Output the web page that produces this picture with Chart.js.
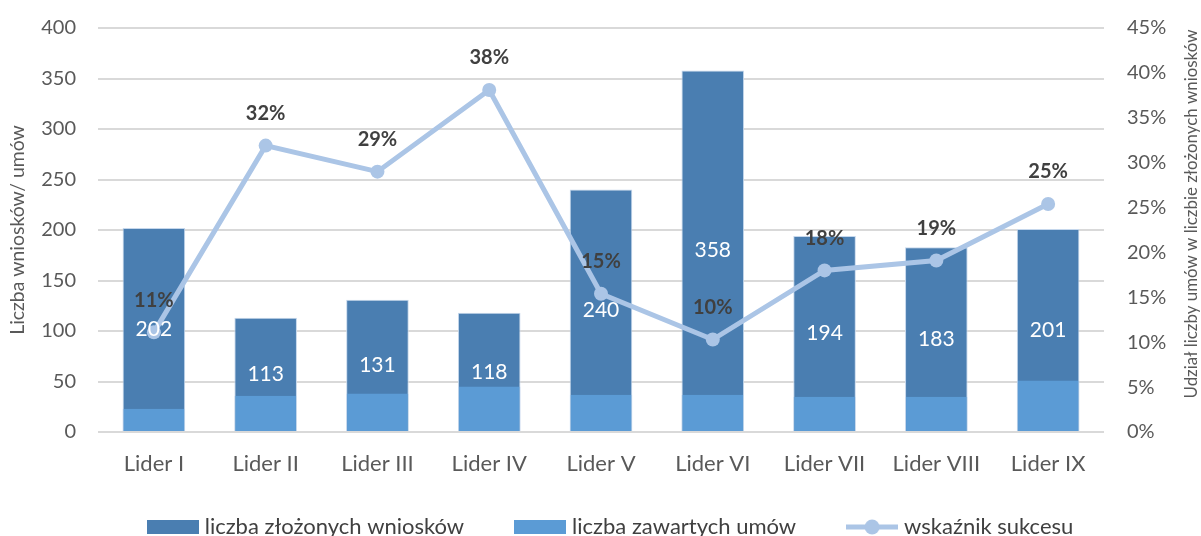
<!DOCTYPE html>
<html>
<head>
<meta charset="utf-8">
<script src="https://cdn.jsdelivr.net/npm/chart.js@4"></script>
<style>
  html, body { margin: 0; padding: 0; background: #fff; }
  #wrap { width: 1201px; height: 536px; }
</style>
</head>
<body>
<div id="wrap"><canvas id="myChart" width="1201" height="536"></canvas></div>
<script>
// dane
const categories = ['Lider I', 'Lider II', 'Lider III', 'Lider IV', 'Lider V', 'Lider VI', 'Lider VII', 'Lider VIII', 'Lider IX'];
const wnioski = [202, 113, 131, 118, 240, 358, 194, 183, 201];
const umowy = [23, 36, 38, 45, 37, 37, 35, 35, 51];
const sukces = [11.1, 31.9, 29.0, 38.1, 15.4, 10.3, 18.0, 19.1, 25.4];
const sukcesLabels = ['11%', '32%', '29%', '38%', '15%', '10%', '18%', '19%', '25%'];
const leftTicks = [0, 50, 100, 150, 200, 250, 300, 350, 400];
const rightTicks = [0, 5, 10, 15, 20, 25, 30, 35, 40, 45];
const leftTitle = 'Liczba wniosków/ umów';
const rightTitle = 'Udział liczby umów w liczbie złożonych wniosków';

const FONT = 'Lato';
const darkBlue = '#4a7eb1';
const midBlue = '#5b9bd5';
const lineBlue = '#abc5e6';
const barEdge = '#c5d7ec';

// rozmiar czcionki dobrany do dlugosci tytulu osi
function fitSize(text, target) {
  const g = document.createElement('canvas').getContext('2d');
  g.font = '20px ' + FONT;
  return Math.round(20 * target / g.measureText(text).width * 10) / 10;
}
const leftTitleSize = fitSize(leftTitle, 210);
const rightTitleSize = fitSize(rightTitle, 368);

function legendIcon(kind, color) {
  const c = document.createElement('canvas');
  c.width = 52; c.height = 16;
  const g = c.getContext('2d');
  if (kind === 'box') {
    g.fillStyle = color;
    g.fillRect(0, 1, 52, 14);
  } else {
    g.strokeStyle = color;
    g.lineWidth = 5;
    g.beginPath(); g.moveTo(0, 8); g.lineTo(52, 8); g.stroke();
    g.fillStyle = color;
    g.beginPath(); g.arc(26, 8, 7.5, 0, Math.PI * 2); g.fill();
  }
  return c;
}
const icons = [legendIcon('box', darkBlue), legendIcon('box', midBlue), legendIcon('line', lineBlue)];

const labelsPlugin = {
  id: 'valueLabels',
  beforeLayout(chart) {
    const lg = chart.legend;
    if (lg && !lg._fixed) {
      const fit = lg.fit;
      lg.fit = function() { fit.call(this); this.height = 54; };
      lg._fixed = true;
    }
  },
  afterLayout(chart) {
    // legenda nizej i troche w prawo, jak na oryginale
    const lg = chart.legend;
    if (lg) {
      lg.top = 461;
      lg.left += 12;
      lg.right += 12;
    }
  },
  afterDatasetsDraw(chart) {
    const ctx = chart.ctx;
    ctx.save();
    ctx.textAlign = 'center';
    ctx.textBaseline = 'middle';
    const barMeta = chart.getDatasetMeta(0);
    ctx.fillStyle = '#ffffff';
    ctx.font = '21px ' + FONT;
    barMeta.data.forEach(function(bar, i) {
      ctx.fillText(String(wnioski[i]), bar.x, (bar.y + bar.base) / 2);
    });
    const lineMeta = chart.getDatasetMeta(2);
    ctx.fillStyle = '#404040';
    ctx.font = 'bold 20px ' + FONT;
    lineMeta.data.forEach(function(pt, i) {
      ctx.fillText(sukcesLabels[i], pt.x, pt.y - 32);
    });
    // tytul prawej osi, czytany od dolu
    ctx.fillStyle = '#595959';
    ctx.font = rightTitleSize + 'px ' + FONT;
    ctx.translate(1192, 214);
    ctx.rotate(-Math.PI / 2);
    ctx.fillText(rightTitle, 0, 0);
    ctx.restore();
  }
};

const ctx = document.getElementById('myChart').getContext('2d');
new Chart(ctx, {
  data: {
    labels: categories,
    datasets: [{
      type: 'bar',
      label: 'liczba złożonych wniosków',
      data: wnioski,
      backgroundColor: darkBlue,
      borderColor: barEdge,
      borderWidth: { left: 1, right: 1, top: 1, bottom: 0 },
      yAxisID: 'y',
      grouped: false,
      order: 3,
      barPercentage: 0.56,
      categoryPercentage: 1
    }, {
      type: 'bar',
      label: 'liczba zawartych umów',
      data: umowy,
      backgroundColor: midBlue,
      borderColor: barEdge,
      borderWidth: { left: 1, right: 1, top: 0, bottom: 0 },
      yAxisID: 'y',
      grouped: false,
      order: 2,
      barPercentage: 0.56,
      categoryPercentage: 1
    }, {
      type: 'line',
      label: 'wskaźnik sukcesu',
      data: sukces,
      borderColor: lineBlue,
      backgroundColor: lineBlue,
      borderWidth: 5,
      tension: 0,
      pointRadius: 7,
      pointBackgroundColor: lineBlue,
      pointBorderWidth: 0,
      yAxisID: 'y1',
      order: 1
    }]
  },
  options: {
    responsive: false,
    animation: false,
    layout: { padding: { top: 28, left: 0, right: 0, bottom: 0 } },
    scales: {
      x: {
        grid: { display: false, drawTicks: false },
        border: { display: false },
        afterFit(axis) { axis.height = 50; },
        ticks: { color: '#595959', font: { family: FONT, size: 22 }, padding: 19 }
      },
      y: {
        position: 'left',
        min: 0,
        max: 400,
        afterBuildTicks(axis) { axis.ticks = leftTicks.map(function(v) { return { value: v }; }); },
        afterFit(axis) { axis.width = 98; axis.paddingTop = 12; axis.paddingBottom = 12; },
        grid: { color: '#d9d9d9', lineWidth: 2, drawTicks: false },
        border: { display: false },
        ticks: { color: '#595959', font: { family: FONT, size: 20 }, padding: 22 },
        title: { display: true, text: leftTitle, color: '#595959', font: { family: FONT, size: leftTitleSize }, padding: { top: 6, bottom: 0 } }
      },
      y1: {
        position: 'right',
        min: 0,
        max: 45,
        afterBuildTicks(axis) { axis.ticks = rightTicks.map(function(v) { return { value: v }; }); },
        afterFit(axis) { axis.width = 97; axis.paddingTop = 12; axis.paddingBottom = 12; },
        grid: { drawOnChartArea: false, drawTicks: false },
        border: { display: false },
        ticks: {
          color: '#595959',
          font: { family: FONT, size: 20 },
          padding: 23,
          callback: function(v) { return v + '%'; }
        }
      }
    },
    plugins: {
      tooltip: { enabled: false },
      legend: {
        position: 'bottom',
        labels: {
          color: '#404040',
          font: { family: FONT, size: 22 },
          usePointStyle: true,
          pointStyleWidth: 42,
          boxHeight: 16,
          padding: 55,
          sort: function(a, b) { return a.datasetIndex - b.datasetIndex; },
          generateLabels: function(chart) {
            return chart.data.datasets.map(function(ds, i) {
              return {
                text: ds.label,
                pointStyle: icons[i],
                fillStyle: ds.backgroundColor,
                strokeStyle: ds.backgroundColor,
                lineWidth: 0,
                fontColor: '#404040',
                hidden: false,
                datasetIndex: i
              };
            });
          }
        }
      }
    }
  },
  plugins: [labelsPlugin]
});
</script>
</body>
</html>
